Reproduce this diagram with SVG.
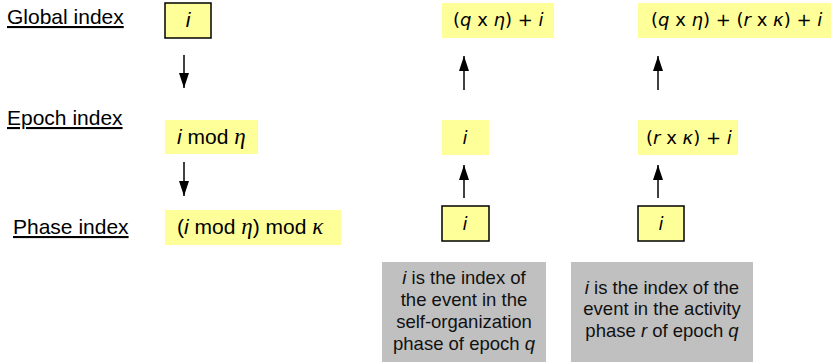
<svg xmlns="http://www.w3.org/2000/svg" width="831" height="362" viewBox="0 0 831 362">
  <style>
    .lbl { font-family: "Liberation Sans", Arial, sans-serif; font-size: 21px; fill: #000; text-decoration: underline; }
    .fx { font-family: "Liberation Sans", Arial, sans-serif; font-size: 21px; fill: #000; }
    .fv { font-family: "DejaVu Sans", Verdana, sans-serif; font-size: 18px; fill: #000; }
    .gr { font-family: "Liberation Serif", "DejaVu Serif", serif; font-style: italic; font-size: 23px; }
    .it { font-style: italic; }
    .note { font-family: "Liberation Sans", Arial, sans-serif; font-size: 18.5px; fill: #111; text-anchor: middle; }
    .yb { fill: #FFFF99; }
    .yk { fill: #FFFF99; stroke: #000; stroke-width: 1.5; }
    .gb { fill: #C0C0C0; }
    .ar { stroke: #000; stroke-width: 1.5; fill: none; marker-end: url(#head); }
  </style>
  <defs>
    <!-- filled triangular arrowhead, tip at the line end -->
    <marker id="head" viewBox="0 0 15 10" refX="15" refY="5" markerWidth="15" markerHeight="10" markerUnits="userSpaceOnUse" orient="auto">
      <path d="M0,0 L15,5 L0,10 Z" fill="#000"/>
    </marker>
  </defs>

  <!-- row labels -->
  <g id="label-global"><text class="lbl" x="7" y="24">Global index</text></g>
  <g id="label-epoch"><text class="lbl" x="7" y="125">Epoch index</text></g>
  <g id="label-phase"><text class="lbl" x="13" y="234">Phase index</text></g>

  <!-- left column: global index broken down -->
  <g id="global-i">
    <rect class="yk" x="165" y="3" width="46" height="35"/>
    <text class="fx it" x="188" y="27" text-anchor="middle">i</text>
  </g>
  <g id="epoch-mod">
    <rect class="yb" x="165" y="120" width="93" height="34"/>
    <text class="fx" x="177" y="144"><tspan class="it">i</tspan> mod <tspan class="gr">η</tspan></text>
  </g>
  <g id="phase-mod">
    <rect class="yb" x="165" y="210" width="176" height="35"/>
    <text class="fx" x="177" y="234">(<tspan class="it">i</tspan> mod <tspan class="gr">η</tspan>) mod <tspan class="gr">κ</tspan></text>
  </g>

  <!-- middle column: self-organization phase -->
  <g id="so-global">
    <rect class="yb" x="442" y="3" width="112" height="35"/>
    <text class="fv" x="453" y="26">(<tspan class="it">q</tspan> x <tspan class="it">η</tspan>) + <tspan class="it">i</tspan></text>
  </g>
  <g id="so-epoch">
    <rect class="yb" x="442" y="120" width="47" height="35"/>
    <text class="fv it" x="465" y="144" text-anchor="middle">i</text>
  </g>
  <g id="so-phase">
    <rect class="yk" x="442" y="206" width="47" height="35"/>
    <text class="fv it" x="465" y="230" text-anchor="middle">i</text>
  </g>
  <g id="so-note">
    <rect class="gb" x="382" y="262" width="164" height="100"/>
    <text class="note"><tspan x="464" y="284"><tspan class="it">i</tspan> is the index of</tspan><tspan x="464" y="306">the event in the</tspan><tspan x="464" y="328">self-organization</tspan><tspan x="464" y="350">phase of epoch <tspan class="it">q</tspan></tspan></text>
  </g>

  <!-- right column: activity phase -->
  <g id="act-global">
    <rect class="yb" x="638" y="3" width="193" height="35"/>
    <text class="fv" x="651" y="26">(<tspan class="it">q</tspan> x <tspan class="it">η</tspan>) + (<tspan class="it">r</tspan> x <tspan class="it">κ</tspan>) + <tspan class="it">i</tspan></text>
  </g>
  <g id="act-epoch">
    <rect class="yb" x="638" y="120" width="100" height="35"/>
    <text class="fv" x="646" y="144">(<tspan class="it">r</tspan> x <tspan class="it">κ</tspan>) + <tspan class="it">i</tspan></text>
  </g>
  <g id="act-phase">
    <rect class="yk" x="638" y="206" width="46" height="35"/>
    <text class="fv it" x="661" y="230" text-anchor="middle">i</text>
  </g>
  <g id="act-note">
    <rect class="gb" x="571" y="262" width="182" height="100"/>
    <text class="note"><tspan x="662" y="294"><tspan class="it">i</tspan> is the index of the</tspan><tspan x="662" y="315">event in the activity</tspan><tspan x="662" y="337">phase <tspan class="it">r</tspan> of epoch <tspan class="it">q</tspan></tspan></text>
  </g>

  <!-- connectors -->
  <g id="connectors">
    <line class="ar" x1="184" y1="55" x2="184" y2="88"/>
    <line class="ar" x1="184" y1="162" x2="184" y2="196"/>
    <line class="ar" x1="464" y1="90" x2="464" y2="56"/>
    <line class="ar" x1="464" y1="198" x2="464" y2="165"/>
    <line class="ar" x1="658" y1="90" x2="658" y2="56"/>
    <line class="ar" x1="658" y1="198" x2="658" y2="165"/>
  </g>
</svg>
